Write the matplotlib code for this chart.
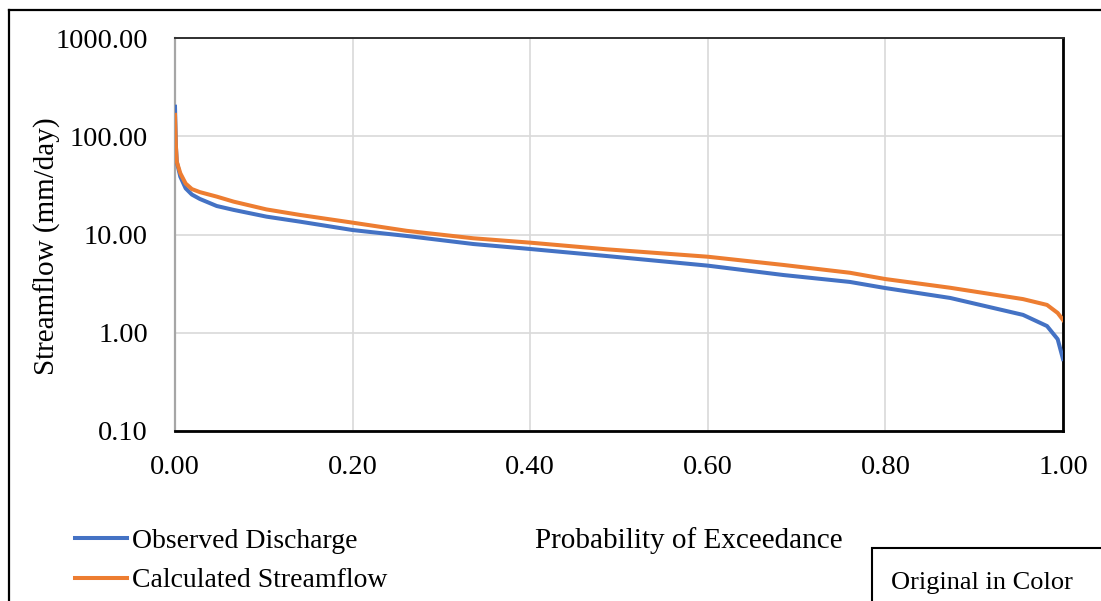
import matplotlib
matplotlib.use("Agg")
import matplotlib.pyplot as plt
from matplotlib.lines import Line2D
from matplotlib.patches import Rectangle
from matplotlib.ticker import FixedLocator, NullLocator, FuncFormatter

plt.rcParams['font.family'] = ['Liberation Serif', 'DejaVu Serif']

# Flow duration curves: exceedance probability vs. daily streamflow (mm/day)
exceedance = [0.0, 0.001, 0.002, 0.006, 0.012, 0.019, 0.028, 0.047, 0.066,
              0.103, 0.141, 0.2, 0.261, 0.336, 0.4, 0.486, 0.6, 0.685,
              0.76, 0.8, 0.873, 0.955, 0.982, 0.994, 1.0]
observed = [200, 80, 55, 38.7, 29.5, 25.5, 23.0, 19.5, 17.8,
            15.2, 13.5, 11.1, 9.66, 8.0, 7.12, 6.04, 4.82, 3.87,
            3.29, 2.85, 2.26, 1.52, 1.17, 0.86, 0.54]
calculated = [165, 80, 55, 42.0, 33.0, 29.0, 27.0, 24.3, 21.6,
              18.0, 15.8, 13.2, 10.9, 9.15, 8.26, 7.07, 5.94, 4.90,
              4.08, 3.52, 2.87, 2.20, 1.92, 1.59, 1.35]

series_labels = ["Observed Discharge", "Calculated Streamflow"]
series_colors = ["#4472C4", "#ED7D31"]
y_ticks = [0.1, 1, 10, 100, 1000]
x_ticks = [0.0, 0.2, 0.4, 0.6, 0.8, 1.0]

W, H = 1101, 601
fig = plt.figure(figsize=(W / 100, H / 100), dpi=100)
fig.patch.set_facecolor("white")

ax = fig.add_axes([175 / W, 1 - 431 / H, (1063 - 175) / W, (431 - 38) / H])
ax.set_yscale("log")
ax.set_xlim(0, 1)
ax.set_ylim(0.1, 1000)

ax.plot(exceedance, observed, color=series_colors[0], lw=2.9,
        solid_joinstyle="round", zorder=3)
ax.plot(exceedance, calculated, color=series_colors[1], lw=2.9,
        solid_joinstyle="round", zorder=4)

ax.xaxis.set_major_locator(FixedLocator(x_ticks))
ax.yaxis.set_major_locator(FixedLocator(y_ticks))
ax.yaxis.set_minor_locator(NullLocator())
ax.xaxis.set_minor_locator(NullLocator())
fmt = FuncFormatter(lambda v, pos: f"{v:.2f}")
ax.xaxis.set_major_formatter(fmt)
ax.yaxis.set_major_formatter(fmt)
ax.tick_params(axis="both", length=0, labelsize=20.5)
ax.tick_params(axis="y", pad=19.5)
ax.tick_params(axis="x", pad=17.5)

ax.grid(True, which="major", color="#d9d9d9", lw=1.2, zorder=0)
for gl in ax.get_ygridlines():
    if abs(gl.get_ydata()[0] - 1) < 1e-9:
        gl.set_color("#c4c4c4")
ax.set_axisbelow(True)

ax.spines["left"].set_color("#a6a6a6")
ax.spines["left"].set_linewidth(1.6)
ax.spines["top"].set_color("#303030")
ax.spines["top"].set_linewidth(1.4)
ax.spines["right"].set_color("black")
ax.spines["right"].set_linewidth(2.0)
ax.spines["bottom"].set_color("black")
ax.spines["bottom"].set_linewidth(2.0)

# Axis titles
fig.text(47 / W, 1 - 246 / H, "Streamflow (mm/day)", rotation=90,
         ha="center", va="center", fontsize=21)
fig.text(689 / W, 1 - 548 / H, "Probability of Exceedance",
         ha="center", va="baseline", fontsize=21)

# Legend entries
for i, (lab, col) in enumerate(zip(series_labels, series_colors)):
    yl = 538 + 39.5 * i
    fig.add_artist(Line2D([75 / W, 127 / W], [1 - yl / H, 1 - yl / H],
                          transform=fig.transFigure, color=col, lw=2.9))
    fig.text(132 / W, 1 - (yl + 9.5) / H, lab, ha="left", va="baseline",
             fontsize=20)

# Note box in the lower right corner
fig.add_artist(Rectangle((872 / W, -0.05), 0.5, 0.05 + (601 - 548) / H,
                         transform=fig.transFigure, fill=False,
                         edgecolor="black", lw=1.5, clip_on=False))
fig.text(891 / W, 1 - 589 / H, "Original in Color", ha="left",
         va="baseline", fontsize=19)

# Outer frame (left and top edges)
fig.add_artist(Line2D([9 / W, 9 / W], [-0.01, 1 - 10 / H],
                      transform=fig.transFigure, color="black", lw=1.6))
fig.add_artist(Line2D([9 / W, 1.01], [1 - 10 / H, 1 - 10 / H],
                      transform=fig.transFigure, color="black", lw=1.6))

fig.savefig("out.png", dpi=100, facecolor="white")
